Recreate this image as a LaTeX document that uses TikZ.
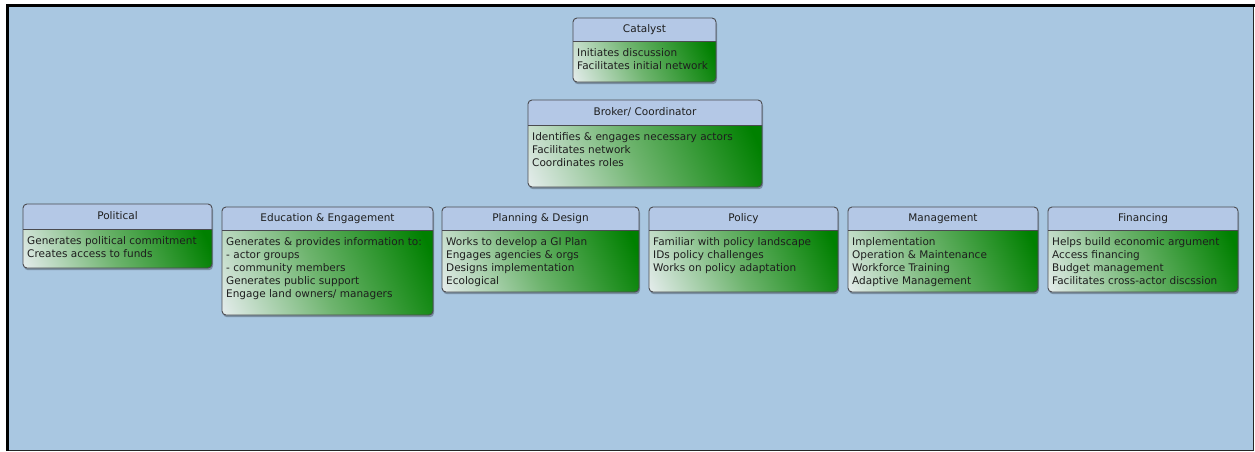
\documentclass[tikz,border=0pt]{standalone}
\usepackage{fontspec}
\setmainfont{DejaVu Sans}
\definecolor{bgc}{RGB}{169,199,225}
\definecolor{headc}{RGB}{180,200,230}
\definecolor{edgec}{RGB}{75,75,80}
\definecolor{lightc}{RGB}{232,238,240}
\definecolor{midc}{RGB}{110,180,110}
\definecolor{greenc}{RGB}{0,128,0}
\definecolor{textc}{RGB}{30,30,30}
\pgfdeclarehorizontalshading{bodygrad}{100bp}{color(0bp)=(lightc); color(16bp)=(lightc); color(47bp)=(midc); color(80bp)=(greenc); color(100bp)=(greenc)}
\newcommand{\boxfont}{\fontsize{10.5}{13}\selectfont}
\tikzset{
  boxshadow/.style={fill=black, opacity=0.28, rounded corners=4pt},
  boxbody/.style={shading=bodygrad, shading angle=25},
  boxhead/.style={fill=headc},
  boxedge/.style={draw=edgec, line width=0.9pt, rounded corners=4pt},
  sepline/.style={draw=edgec, line width=0.9pt},
  titletext/.style={font=\boxfont, text=textc, inner sep=0pt, text height=7.6pt, text depth=2.2pt},
  bodytext/.style={font=\boxfont, text=textc, inner sep=0pt, anchor=base west}
}
% #1 name, #2 x1, #3 y1, #4 x2, #5 y2, #6 header bottom, #7 title, #8 body
\newcommand{\rolebox}[8]{%
  \fill[boxshadow] (#2+1,#3+2) rectangle (#4+1,#5+2.2);
  \shade[boxbody] (#2,#6) -- (#4,#6) {[rounded corners=4pt] -- (#4,#5) -- (#2,#5)} -- cycle;
  \fill[boxhead] (#2,#6) {[rounded corners=4pt] -- (#2,#3) -- (#4,#3)} -- (#4,#6) -- cycle;
  \draw[boxedge] (#2,#3) rectangle (#4,#5);
  \draw[sepline] (#2,#6) -- (#4,#6);
  \node[titletext] (#1) at ({(#2+#4)/2},{(#3+#6)/2}) {#7};
  \node[bodytext] (#1-body) at (#2+4,#6+15) {\begin{tabular}[t]{@{}l@{}}#8\end{tabular}};
}
\begin{document}
\begin{tikzpicture}[x=1pt,y=-1pt]
\useasboundingbox (0,0) rectangle (1255,451);
\fill[white] (0,0) rectangle (1255,451);
\fill[bgc] (7,6) rectangle (1253,450);
\draw[black!85, line width=0.8pt] (7,450) -- (1253,450) -- (1253,6);
\draw[black, line width=2.6pt] (7.3,451) -- (7.3,5.6) -- (1255,5.6);

\rolebox{catalyst}{573}{18}{716}{82}{41}{Catalyst}{Initiates discussion\\Facilitates initial network}
\rolebox{broker}{528}{100}{762}{187}{125}{Broker/ Coordinator}{Identifies \& engages necessary actors\\Facilitates network\\Coordinates roles}
\rolebox{political}{23}{204}{212}{268}{229}{Political}{Generates political commitment\\Creates access to funds}
\rolebox{education}{222}{207}{433}{315}{230}{Education \& Engagement}{Generates \& provides information to:\\- actor groups\\- community members\\Generates public support\\Engage land owners/ managers}
\rolebox{planning}{442}{207}{639}{292}{230}{Planning \& Design}{Works to develop a GI Plan\\Engages agencies \& orgs\\Designs implementation\\Ecological}
\rolebox{policy}{649}{207}{838}{292}{230}{Policy}{Familiar with policy landscape\\IDs policy challenges\\Works on policy adaptation}
\rolebox{management}{848}{207}{1038}{292}{230}{Management}{Implementation\\Operation \& Maintenance\\Workforce Training\\Adaptive Management}
\rolebox{financing}{1048}{207}{1238}{292}{230}{Financing}{Helps build economic argument\\Access financing\\Budget management\\Facilitates cross-actor discssion}
\end{tikzpicture}
\end{document}
